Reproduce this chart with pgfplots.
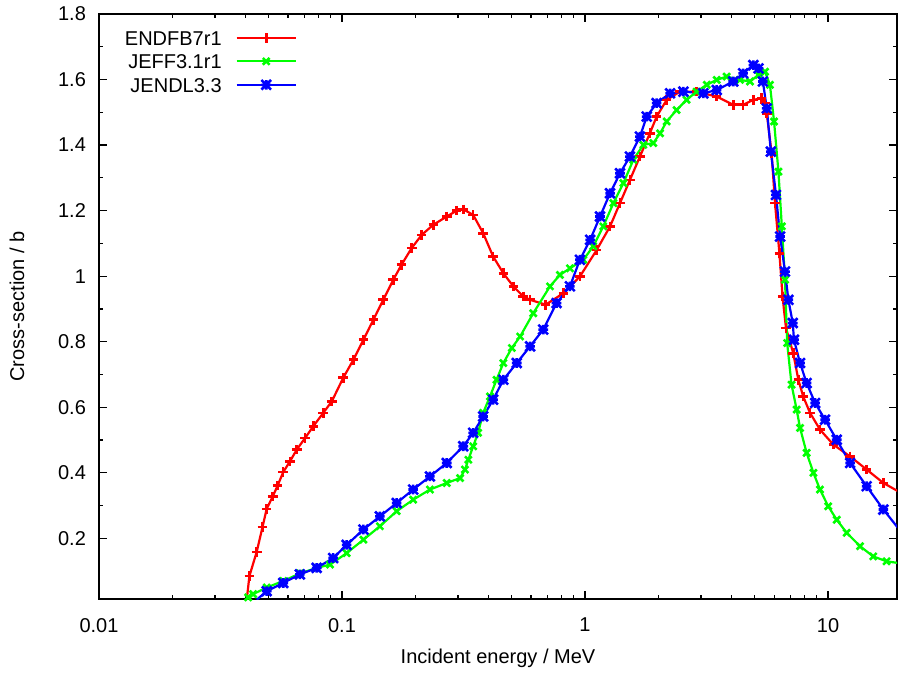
\documentclass[border=0pt]{standalone}
\usepackage{fontspec}
\setmainfont{Liberation Sans}
\usepackage{pgfplots}
\usepackage{pgfplotstable}
\pgfplotsset{compat=1.18}

\pgfdeclareplotmark{gstar}{%
  \pgfpathmoveto{\pgfqpoint{-\pgfplotmarksize}{0pt}}%
  \pgfpathlineto{\pgfqpoint{\pgfplotmarksize}{0pt}}%
  \pgfpathmoveto{\pgfqpoint{0pt}{-\pgfplotmarksize}}%
  \pgfpathlineto{\pgfqpoint{0pt}{\pgfplotmarksize}}%
  \pgfpathmoveto{\pgfqpoint{-\pgfplotmarksize}{-\pgfplotmarksize}}%
  \pgfpathlineto{\pgfqpoint{\pgfplotmarksize}{\pgfplotmarksize}}%
  \pgfpathmoveto{\pgfqpoint{-\pgfplotmarksize}{\pgfplotmarksize}}%
  \pgfpathlineto{\pgfqpoint{\pgfplotmarksize}{-\pgfplotmarksize}}%
  \pgfusepathqstroke}

\pgfplotstableread{
x y
0.04055 0.013
0.04159 0.085
0.04457 0.159
0.04710 0.235
0.04898 0.290
0.05188 0.328
0.05433 0.361
0.05728 0.402
0.06109 0.435
0.06516 0.471
0.07047 0.506
0.07621 0.542
0.08375 0.583
0.09078 0.618
0.1012 0.690
0.1114 0.745
0.1225 0.806
0.1346 0.867
0.1479 0.928
0.1626 0.989
0.1758 1.035
0.1936 1.086
0.2128 1.126
0.2377 1.157
0.2698 1.182
0.2965 1.200
0.3155 1.204
0.3467 1.187
0.3811 1.131
0.4188 1.060
0.4613 1.009
0.5070 0.969
0.5572 0.938
0.5943 0.928
0.6887 0.913
0.8147 0.948
0.9528 0.999
1.117 1.080
1.268 1.152
1.393 1.223
1.531 1.294
1.683 1.365
1.849 1.436
1.972 1.487
2.168 1.538
2.460 1.563
2.877 1.563
3.483 1.548
4.074 1.523
4.477 1.523
4.932 1.538
5.333 1.543
5.508 1.528
5.598 1.497
5.861 1.375
6.053 1.223
6.310 1.070
6.501 0.938
6.714 0.842
7.194 0.765
7.551 0.684
7.907 0.633
8.433 0.583
9.268 0.532
10.52 0.486
12.33 0.450
14.42 0.410
16.90 0.369
19.41 0.344
}\endfb

\pgfplotstableread{
x y
0.0411 0.020
0.0431 0.030
0.0490 0.050
0.0573 0.070
0.0671 0.093
0.0787 0.110
0.0893 0.120
0.1045 0.155
0.1225 0.196
0.1432 0.237
0.1679 0.283
0.1963 0.318
0.2301 0.349
0.2698 0.369
0.3062 0.384
0.3206 0.410
0.3311 0.440
0.3467 0.481
0.3631 0.522
0.3811 0.583
0.4064 0.633
0.4325 0.684
0.4613 0.735
0.5000 0.781
0.5408 0.816
0.6124 0.887
0.7178 0.969
0.7889 1.004
0.8670 1.024
0.9840 1.050
1.081 1.091
1.189 1.152
1.309 1.223
1.439 1.284
1.581 1.355
1.738 1.401
1.910 1.406
2.037 1.436
2.168 1.472
2.382 1.507
2.618 1.538
2.877 1.563
3.170 1.584
3.483 1.599
3.828 1.609
4.345 1.599
4.775 1.594
5.176 1.614
5.508 1.624
5.768 1.584
5.998 1.472
6.252 1.319
6.457 1.152
6.653 0.989
6.792 0.796
7.079 0.669
7.430 0.593
7.674 0.537
8.166 0.461
8.710 0.400
9.268 0.349
10.02 0.298
10.86 0.257
11.94 0.217
13.55 0.176
15.35 0.145
17.42 0.130
19.41 0.125
}\jeff

\pgfplotstableread{
x y
0.0446 0.013
0.0490 0.039
0.0573 0.064
0.0671 0.090
0.0787 0.110
0.0920 0.140
0.1045 0.180
0.1225 0.227
0.1432 0.267
0.1679 0.308
0.1963 0.349
0.2301 0.389
0.2698 0.430
0.3155 0.481
0.3467 0.522
0.3811 0.572
0.4188 0.623
0.4613 0.684
0.5236 0.735
0.5943 0.786
0.6730 0.837
0.7638 0.918
0.8670 0.969
0.9528 1.050
1.050 1.111
1.153 1.182
1.268 1.253
1.393 1.314
1.531 1.365
1.683 1.426
1.795 1.487
1.972 1.528
2.239 1.558
2.541 1.563
3.069 1.558
3.483 1.568
4.074 1.594
4.477 1.619
4.932 1.644
5.176 1.634
5.395 1.594
5.598 1.512
5.821 1.380
6.109 1.248
6.353 1.121
6.653 1.014
6.871 0.928
7.161 0.857
7.244 0.806
7.674 0.735
8.166 0.674
8.851 0.613
9.727 0.562
10.86 0.501
12.33 0.430
14.42 0.359
16.90 0.288
19.41 0.232
}\jendl

\begin{document}
\begin{tikzpicture}[font=\fontsize{10}{12}\selectfont]
\begin{axis}[
  scale only axis,
  width=399pt, height=292.5pt,
  xmode=log,
  xmin=0.01, xmax=19.23,
  ymin=0.015, ymax=1.8,
  xtick={0.01,0.1,1,10},
  xticklabels={0.01,0.1,1,10},
  ytick={0.2,0.4,0.6,0.8,1,1.2,1.4,1.6,1.8},
  yticklabels={0.2,0.4,0.6,0.8,1,1.2,1.4,1.6,1.8},
  minor y tick num=1,
  tick align=inside,
  major tick length=4pt,
  minor tick length=2pt,
  every tick/.style={black, line width=0.6pt},
  axis line style={line width=1pt},
  xticklabel style={yshift=-6pt},
  yticklabel style={xshift=-3pt},
  xlabel={Incident energy / MeV},
  ylabel={Cross-section / b},
  xlabel style={at={(axis description cs:0.5,-0.101)}, anchor=center},
  ylabel style={at={(axis description cs:-0.1028,0.5)}, anchor=center},
  legend plot pos=right,
  legend cell align=right,
  legend style={at={(axis description cs:0.022,0.983)}, anchor=north west,
    draw=none, fill=none, row sep=2.25pt, column sep=6pt,
    nodes={inner sep=1pt, text height=7.5pt, text depth=0pt}},
  legend image code/.code={\draw[#1,mark repeat=2,mark phase=2] plot coordinates {(0pt,0pt) (14.75pt,0pt) (29.5pt,0pt)};},
  every axis plot/.append style={line width=1.1pt, mark size=2.4pt,
    mark options={line width=1.3pt}},
]
\addplot[color={rgb,255:red,255;green,0;blue,0}, mark=+] table[x=x,y=y] {\endfb};
\addlegendentry{ENDFB7r1}
\addplot[color={rgb,255:red,0;green,255;blue,0}, mark=x] table[x=x,y=y] {\jeff};
\addlegendentry{JEFF3.1r1}
\addplot[color={rgb,255:red,0;green,0;blue,255}, mark=gstar] table[x=x,y=y] {\jendl};
\addlegendentry{JENDL3.3}
\end{axis}
\pgfresetboundingbox
\path[use as bounding box] ([xshift=-49.5pt,yshift=-37.5pt]current axis.south west) rectangle ([xshift=0.5pt,yshift=7pt]current axis.north east);
\end{tikzpicture}
\end{document}
